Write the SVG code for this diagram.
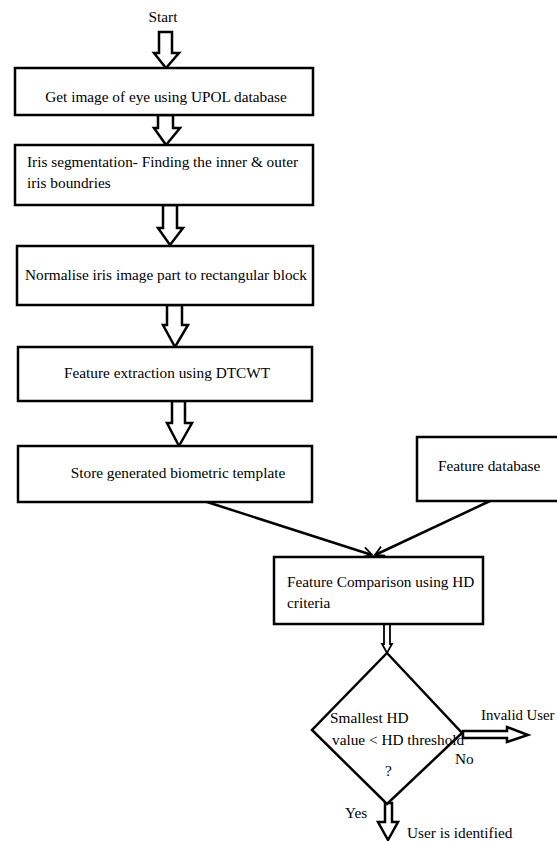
<svg xmlns="http://www.w3.org/2000/svg" width="557" height="841" viewBox="0 0 557 841">
<style>
.box{fill:#fff;stroke:#000;stroke-width:2.5}
.blk{fill:#fff;stroke:#000;stroke-width:2.5;stroke-linejoin:miter}
.ln{fill:none;stroke:#000;stroke-width:2.5}
</style>
<defs>
<marker id="v" markerWidth="12" markerHeight="12" refX="10" refY="6" orient="auto" markerUnits="userSpaceOnUse">
<path d="M1,1 L10,6 L1,11" fill="none" stroke="#000" stroke-width="1.8"/>
</marker>
</defs>
<rect width="557" height="841" fill="#fff"/>
<g id="connectors">
<path class="blk" d="M159,32 H172 V53 H179 L166,68 L154,53 H159 Z"/>
<path class="blk" d="M158,115 H173 V128 H180 L166,145 L154,128 H158 Z"/>
<path class="blk" d="M163,205 H177 V228 H183 L170,245 L158,228 H163 Z"/>
<path class="blk" d="M167,305 H182 V325 H188 L175,347 L163,325 H167 Z"/>
<path class="blk" d="M172,401 H185 V423 H192 L179,446 L167,423 H172 Z"/>
<line class="ln" x1="207" y1="502" x2="372" y2="555" marker-end="url(#v)"/>
<line class="ln" x1="490" y1="501" x2="375" y2="555" marker-end="url(#v)"/>
<path class="blk" style="stroke-width:1.8" d="M384,624 H390 V644 H392 L387,653 L382,644 H384 Z"/>
<path class="blk" d="M463,731 H507 V727 L528,735 L507,742 V738 H463 Z"/>
<path class="blk" d="M385,803 H392 V822 H398 L388,840 L378,822 H385 Z"/>
</g>
<g font-family="Liberation Serif, Times New Roman, serif" font-size="15.3" fill="#000">
<g id="start"><text x="163" y="22" text-anchor="middle">Start</text></g>
<g id="n1"><rect class="box" x="15" y="68" width="298" height="47"/><text x="166" y="102" text-anchor="middle">Get image of eye using UPOL database</text></g>
<g id="n2"><rect class="box" x="15" y="145" width="298" height="60"/><text x="27" y="167">Iris segmentation- Finding the inner &amp; outer</text><text x="27" y="188">iris boundries</text></g>
<g id="n3"><rect class="box" x="17" y="246" width="296" height="59"/><text x="166" y="280" text-anchor="middle">Normalise iris image part to rectangular block</text></g>
<g id="n4"><rect class="box" x="18" y="347" width="294" height="54"/><text x="167" y="378" text-anchor="middle">Feature extraction using DTCWT</text></g>
<g id="n5"><rect class="box" x="18" y="446" width="294" height="56"/><text x="178" y="478" text-anchor="middle">Store generated biometric template</text></g>
<g id="n6"><rect class="box" x="417" y="437" width="147" height="64"/><text x="438" y="471">Feature database</text></g>
<g id="n7"><rect class="box" x="274" y="557" width="209" height="67"/><text x="287" y="587">Feature Comparison using HD</text><text x="287" y="608">criteria</text></g>
<g id="n8"><path class="box" d="M387,653 L462,733 L387,804 L312,730 Z"/><text x="330" y="723">Smallest HD</text><text x="332" y="745">value &lt; HD threshold</text><text x="385" y="776">?</text></g>
<g id="labels">
<text x="481" y="720" font-size="14.8">Invalid User</text>
<text x="455" y="764">No</text>
<text x="345" y="818">Yes</text>
<text x="407" y="838">User is identified</text>
</g>
</g>
</svg>
